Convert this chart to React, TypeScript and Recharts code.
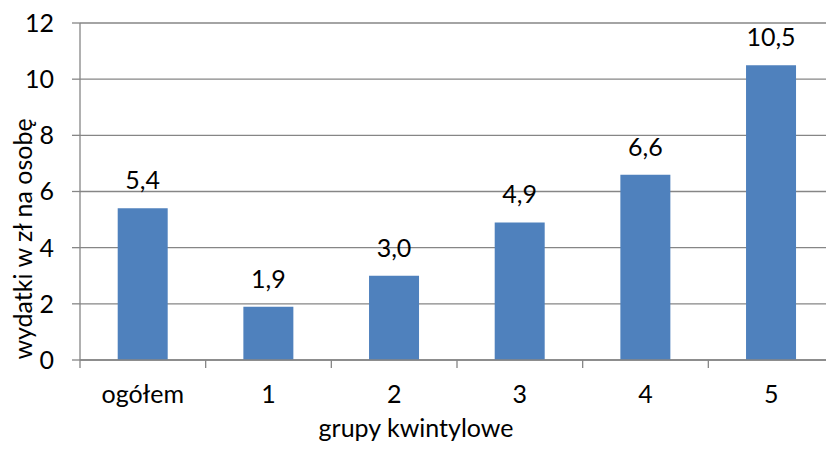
import { BarChart, Bar, XAxis, YAxis, CartesianGrid, LabelList, Label } from "recharts";

const categories = ["ogółem", "1", "2", "3", "4", "5"];
const spending = [5.4, 1.9, 3.0, 4.9, 6.6, 10.5];
const yTicks = [0, 2, 4, 6, 8, 10, 12];

const data = categories.map((name, i) => ({ name, value: spending[i] }));

const FONT = "Lato, 'Open Sans', sans-serif";
const FS = 25;
const GRAY = "#868686";
const BLUE = "#4F81BD";

const fmt = (v: number) => v.toFixed(1).replace(".", ",");

// category label + tick mark on the left boundary of each category (Excel style)
const XTick = (props: any) => {
  const { x, y, payload } = props;
  const half = payload?.offset ?? 62.8;
  const axisY = y - 25;
  return (
    <g>
      <line x1={x - half} x2={x - half} y1={axisY} y2={axisY + 8} stroke={GRAY} strokeWidth={1.3} />
      <text x={x} y={y} dy="0.71em" textAnchor="middle" fill="#000" fontSize={FS} fontFamily={FONT}>
        {payload.value}
      </text>
    </g>
  );
};

export default function App() {
  return (
    <div style={{ position: "absolute", left: 0, top: 0, width: 826, height: 453, overflow: "hidden", background: "#fff" }}>
      <BarChart
        width={840}
        height={453}
        data={data}
        margin={{ top: 23, right: 6, left: 0, bottom: 0 }}
        barCategoryGap="30%"
      >
        <CartesianGrid vertical={false} stroke={GRAY} strokeWidth={1.3} />
        <XAxis
          dataKey="name"
          height={93}
          axisLine={{ stroke: GRAY, strokeWidth: 1.3 }}
          tickLine={false}
          tickSize={8}
          tickMargin={17}
          tick={<XTick />}
          interval={0}
        >
          <Label
            content={() => (
              <text x={416} y={437} textAnchor="middle" fontSize={FS} fontFamily={FONT} fill="#000">
                grupy kwintylowe
              </text>
            )}
          />
        </XAxis>
        <YAxis
          width={80}
          domain={[0, 12]}
          ticks={yTicks}
          interval={0}
          axisLine={{ stroke: GRAY, strokeWidth: 1.3 }}
          tickLine={{ stroke: GRAY, strokeWidth: 1.3 }}
          tickSize={8}
          tickMargin={18}
          tick={{ fill: "#000", fontSize: FS, fontFamily: FONT }}
        >
          <Label
            content={() => (
              <text
                x={22}
                y={239}
                transform="rotate(-90 22 239)"
                textAnchor="middle"
                dominantBaseline="central"
                fontSize={FS}
                fontFamily={FONT}
                fill="#000"
              >
                wydatki w zł na osobę
              </text>
            )}
          />
        </YAxis>
        <Bar dataKey="value" fill={BLUE} isAnimationActive={false}>
          <LabelList
            dataKey="value"
            position="top"
            offset={19}
            formatter={(v: any) => fmt(Number(v))}
            style={{ fill: "#000", fontSize: FS, fontFamily: FONT }}
          />
        </Bar>
      </BarChart>
    </div>
  );
}
